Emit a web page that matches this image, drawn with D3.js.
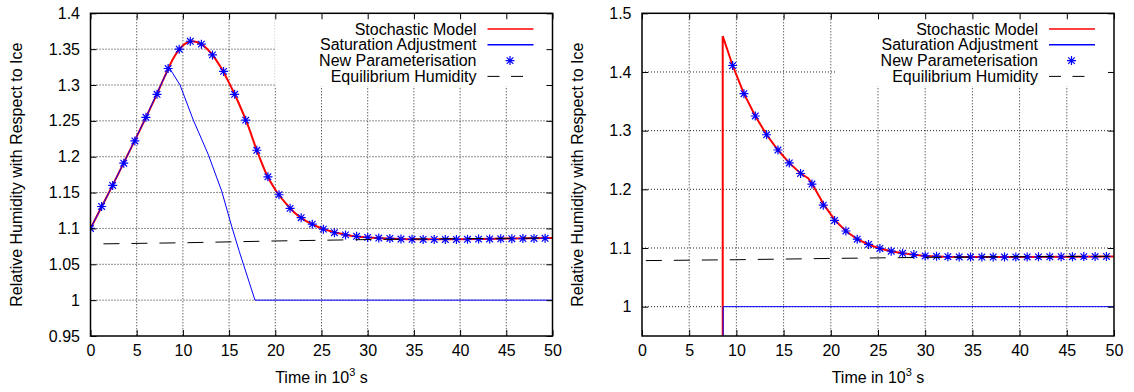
<!DOCTYPE html>
<html>
<head>
<meta charset="utf-8">
<script src="https://cdn.jsdelivr.net/npm/d3@7"></script>
<style>
  body { margin: 0; background: #fff; }
  text { font-family: "Liberation Sans", Arial, sans-serif; font-size: 16px; fill: #000; }
</style>
</head>
<body>
<svg class="chart"></svg>
<script>
var width = 1134;
var height = 392;

// axis ticks
var timeTicks = [0, 5, 10, 15, 20, 25, 30, 35, 40, 45, 50];
var leftRhTicks = [0.95, 1, 1.05, 1.1, 1.15, 1.2, 1.25, 1.3, 1.35, 1.4];
var leftRhLabels = ['0.95', '1', '1.05', '1.1', '1.15', '1.2', '1.25', '1.3', '1.35', '1.4'];
var rightRhTicks = [1, 1.1, 1.2, 1.3, 1.4, 1.5];
var rightRhLabels = ['1', '1.1', '1.2', '1.3', '1.4', '1.5'];

var legendLabels = ['Stochastic Model', 'Saturation Adjustment', 'New Parameterisation', 'Equilibrium Humidity'];

// ---- left panel series ----
var leftStochTime = [0, 1, 2, 3, 4, 5, 6, 7, 8, 9, 10, 11, 12, 13, 14, 15, 16, 17, 18, 19, 20, 21, 22, 23, 24, 25, 26, 27, 28, 29, 30, 32, 35, 40, 45, 50];
var leftStochRh = [1.100, 1.125, 1.150, 1.176, 1.202, 1.228, 1.255, 1.282, 1.311, 1.338, 1.355, 1.361, 1.357, 1.345, 1.327, 1.303, 1.276, 1.245, 1.209, 1.177, 1.154, 1.137, 1.123, 1.113, 1.106, 1.100, 1.096, 1.093, 1.090, 1.0885, 1.0875, 1.086, 1.085, 1.085, 1.0858, 1.0866];

var leftSatTime = [0, 2, 4, 6, 8, 8.53, 9.69, 11.13, 12.75, 14.2, 15.28, 16.1, 17.8, 50];
var leftSatRh = [1.100, 1.150, 1.202, 1.255, 1.311, 1.324, 1.300, 1.251, 1.203, 1.152, 1.103, 1.068, 1.0, 1.0];

var leftParamTime = [0, 1.2, 2.4, 3.6, 4.8, 6, 7.2, 8.4, 9.6, 10.8, 12, 13.2, 14.4, 15.6, 16.8, 18, 19.2, 20.4, 21.6, 22.8, 24, 25.2, 26.4, 27.6, 28.8, 30, 31.2, 32.4, 33.6, 34.8, 36, 37.2, 38.4, 39.6, 40.8, 42, 43.2, 44.4, 45.6, 46.8, 48, 49.2];
var leftParamRh = [1.100, 1.1306, 1.160, 1.191, 1.222, 1.255, 1.287, 1.323, 1.350, 1.361, 1.357, 1.342, 1.319, 1.287, 1.251, 1.209, 1.172, 1.147, 1.128, 1.115, 1.106, 1.099, 1.094, 1.091, 1.089, 1.0875, 1.0866, 1.086, 1.0852, 1.0848, 1.0846, 1.0846, 1.0846, 1.0847, 1.0849, 1.0851, 1.0853, 1.0855, 1.0857, 1.0859, 1.086, 1.0862];

var leftEquilTime = [1.4, 10, 20, 30, 40, 50];
var leftEquilRh = [1.0785, 1.0800, 1.0825, 1.0845, 1.0858, 1.0866];

// ---- right panel series ----
var rightStochTime = [8.55, 8.55, 9, 9.6, 10.8, 12, 13.2, 14.4, 15.6, 16.8, 17.6, 18, 19.3, 20.45, 21.6, 22.8, 24, 25.2, 26.4, 27.6, 28.8, 30, 32, 35, 40, 45, 50];
var rightStochRh = [0.95, 1.461, 1.44, 1.411, 1.363, 1.325, 1.293, 1.267, 1.245, 1.227, 1.219, 1.210, 1.173, 1.147, 1.129, 1.115, 1.106, 1.099, 1.0945, 1.091, 1.0887, 1.0865, 1.0852, 1.0846, 1.0846, 1.085, 1.0855];

var rightSatTime = [8.6, 8.6, 50];
var rightSatRh = [0.95, 1.0, 1.0];

var rightParamTime = [9.6, 10.8, 12, 13.2, 14.4, 15.6, 16.8, 18, 19.2, 20.4, 21.6, 22.8, 24, 25.2, 26.4, 27.6, 28.8, 30, 31.2, 32.4, 33.6, 34.8, 36, 37.2, 38.4, 39.6, 40.8, 42, 43.2, 44.4, 45.6, 46.8, 48, 49.2];
var rightParamRh = [1.411, 1.363, 1.325, 1.293, 1.267, 1.245, 1.227, 1.209, 1.173, 1.147, 1.129, 1.115, 1.106, 1.0993, 1.0945, 1.091, 1.0887, 1.0865, 1.0858, 1.0852, 1.0848, 1.0846, 1.0846, 1.0846, 1.0846, 1.0847, 1.0848, 1.0849, 1.085, 1.0851, 1.0852, 1.0853, 1.0854, 1.0855];

var rightEquilTime = [0.4, 10, 20, 30, 40, 50];
var rightEquilRh = [1.0785, 1.0800, 1.0822, 1.0840, 1.0852, 1.0858];

var chart = d3.select('.chart')
    .attr('width', width)
    .attr('height', height);

var zip = function(xs, ys){
  return xs.map(function(d, i){ return {t: d, rh: ys[i]}; });
};

// gnuplot-like asterisk marker
var star = 'M-4.5,0H4.5M0,-4.5V4.5M-3.3,-3.3L3.3,3.3M-3.3,3.3L3.3,-3.3';

var panel = function(p){
  var top = 13.3, bottom = 336;
  var x = d3.scaleLinear().domain([0, 50]).range([p.left, p.right]);
  var y = d3.scaleLinear().domain(p.yDomain).range([bottom, top]);
  var g = chart.append('g');

  var clipId = 'clip' + p.id;
  g.append('clipPath').attr('id', clipId)
    .append('rect')
      .attr('x', p.left).attr('y', top)
      .attr('width', p.right - p.left).attr('height', bottom - top);

  // dotted grid (interior ticks only)
  g.selectAll('.vgrid')
    .data(timeTicks.slice(1, -1))
    .join('line')
      .attr('x1', function(d){ return x(d); })
      .attr('x2', function(d){ return x(d); })
      .attr('y1', top).attr('y2', bottom)
      .attr('stroke', '#222').attr('stroke-width', 1)
      .attr('stroke-dasharray', '1,2');
  g.selectAll('.hgrid')
    .data(p.yTicks.filter(function(d){ return d > p.yDomain[0] && d < p.yDomain[1]; }))
    .join('line')
      .attr('x1', p.left).attr('x2', p.right)
      .attr('y1', function(d){ return y(d); })
      .attr('y2', function(d){ return y(d); })
      .attr('stroke', '#222').attr('stroke-width', 1)
      .attr('stroke-dasharray', '1,2');

  // legend box (opaque)
  var textRight = p.right - 76;
  var legend = g.append('g');
  var box = legend.append('rect').attr('fill', '#fff');
  var rowY = function(i){ return top + 15.7 + i * 15.8; };
  var texts = legend.selectAll('text')
    .data(legendLabels)
    .join('text')
      .attr('x', textRight)
      .attr('y', function(d, i){ return rowY(i); })
      .attr('dy', '0.35em')
      .attr('text-anchor', 'end')
      .text(function(d){ return d; });
  var maxW = d3.max(texts.nodes(), function(n){ return n.getComputedTextLength(); });
  box.attr('x', textRight - maxW - 44).attr('y', top)
    .attr('width', p.right - (textRight - maxW - 44)).attr('height', 73);

  var plot = g.append('g').attr('clip-path', 'url(#' + clipId + ')');
  var line = function(curve){
    return d3.line()
      .x(function(d){ return x(d.t); })
      .y(function(d){ return y(d.rh); })
      .curve(curve);
  };

  plot.append('path')
    .datum(zip(p.stochTime, p.stochRh))
    .attr('d', line(p.stochCurve))
    .attr('fill', 'none').attr('stroke', '#ff0000').attr('stroke-width', 2);

  plot.append('path')
    .datum(zip(p.satTime, p.satRh))
    .attr('d', line(d3.curveLinear))
    .attr('fill', 'none').attr('stroke', '#0000ff').attr('stroke-width', 1);

  plot.selectAll('.pt')
    .data(zip(p.paramTime, p.paramRh))
    .join('path')
      .attr('transform', function(d){ return 'translate(' + x(d.t) + ',' + y(d.rh) + ')'; })
      .attr('d', star)
      .attr('fill', 'none').attr('stroke', '#0000ff').attr('stroke-width', 1.2);

  plot.append('path')
    .datum(zip(p.equilTime, p.equilRh))
    .attr('d', line(d3.curveLinear))
    .attr('fill', 'none').attr('stroke', '#000').attr('stroke-width', 1)
    .attr('stroke-dasharray', '16,12');

  // legend samples
  var sx1 = p.right - 65, sx2 = p.right - 19;
  legend.append('line')
    .attr('x1', sx1).attr('x2', sx2).attr('y1', rowY(0)).attr('y2', rowY(0))
    .attr('stroke', '#ff0000').attr('stroke-width', 1.5);
  legend.append('line')
    .attr('x1', sx1).attr('x2', sx2).attr('y1', rowY(1)).attr('y2', rowY(1))
    .attr('stroke', '#0000ff').attr('stroke-width', 1.5);
  legend.append('path')
    .attr('transform', 'translate(' + (p.right - 42.5) + ',' + rowY(2) + ')')
    .attr('d', star)
    .attr('fill', 'none').attr('stroke', '#0000ff').attr('stroke-width', 1.2);
  legend.append('line')
    .attr('x1', sx1).attr('x2', sx2).attr('y1', rowY(3)).attr('y2', rowY(3))
    .attr('stroke', '#000').attr('stroke-width', 1)
    .attr('stroke-dasharray', '12,11.5');
  legend.raise();
  plot.lower();
  g.selectAll('line[stroke-dasharray="1,2"]').lower();

  // axes, ticks inward on all sides
  var bottomAxis = g.append('g')
    .attr('transform', 'translate(0,' + bottom + ')')
    .call(d3.axisBottom(x).tickValues(timeTicks).tickSizeInner(-6).tickSizeOuter(0).tickPadding(9));
  var topAxis = g.append('g')
    .attr('transform', 'translate(0,' + top + ')')
    .call(d3.axisTop(x).tickValues(timeTicks).tickSizeInner(-6).tickSizeOuter(0).tickFormat(''));
  var leftAxis = g.append('g')
    .attr('transform', 'translate(' + p.left + ',0)')
    .call(d3.axisLeft(y).tickValues(p.yTicks).tickSizeInner(-6).tickSizeOuter(0).tickPadding(10.5)
      .tickFormat(function(d, i){ return p.yLabels[i]; }));
  var rightAxis = g.append('g')
    .attr('transform', 'translate(' + p.right + ',0)')
    .call(d3.axisRight(y).tickValues(p.yTicks).tickSizeInner(-6).tickSizeOuter(0).tickFormat(''));
  [bottomAxis, topAxis, leftAxis, rightAxis].forEach(function(a){
    a.select('.domain').remove();
    a.selectAll('line').attr('stroke', '#000').attr('stroke-width', 1);
    a.selectAll('text').style('font-size', '16px').style('font-family', '"Liberation Sans", Arial, sans-serif').attr('fill', '#000');
  });

  g.append('rect')
    .attr('x', p.left).attr('y', top)
    .attr('width', p.right - p.left).attr('height', bottom - top)
    .attr('fill', 'none').attr('stroke', '#000').attr('stroke-width', 1.5);

  // axis titles
  var xt = g.append('text')
    .attr('x', (p.left + p.right) / 2)
    .attr('y', 383)
    .attr('text-anchor', 'middle');
  xt.append('tspan').text('Time in 10');
  xt.append('tspan').attr('dy', -7).style('font-size', '11px').text('3');
  xt.append('tspan').attr('dy', 7).text(' s');

  g.append('text')
    .attr('transform', 'translate(' + p.titleX + ',' + (top + bottom) / 2 + ') rotate(-90)')
    .attr('text-anchor', 'middle')
    .text('Relative Humidity with Respect to Ice');
};

panel({
  id: 'L', left: 90.5, right: 552.5, titleX: 22,
  yDomain: [0.95, 1.4], yTicks: leftRhTicks, yLabels: leftRhLabels,
  stochTime: leftStochTime, stochRh: leftStochRh, stochCurve: d3.curveMonotoneX,
  satTime: leftSatTime, satRh: leftSatRh,
  paramTime: leftParamTime, paramRh: leftParamRh,
  equilTime: leftEquilTime, equilRh: leftEquilRh
});

panel({
  id: 'R', left: 642, right: 1114, titleX: 583,
  yDomain: [0.95, 1.5], yTicks: rightRhTicks, yLabels: rightRhLabels,
  stochTime: rightStochTime, stochRh: rightStochRh, stochCurve: d3.curveLinear,
  satTime: rightSatTime, satRh: rightSatRh,
  paramTime: rightParamTime, paramRh: rightParamRh,
  equilTime: rightEquilTime, equilRh: rightEquilRh
});
</script>
</body>
</html>
